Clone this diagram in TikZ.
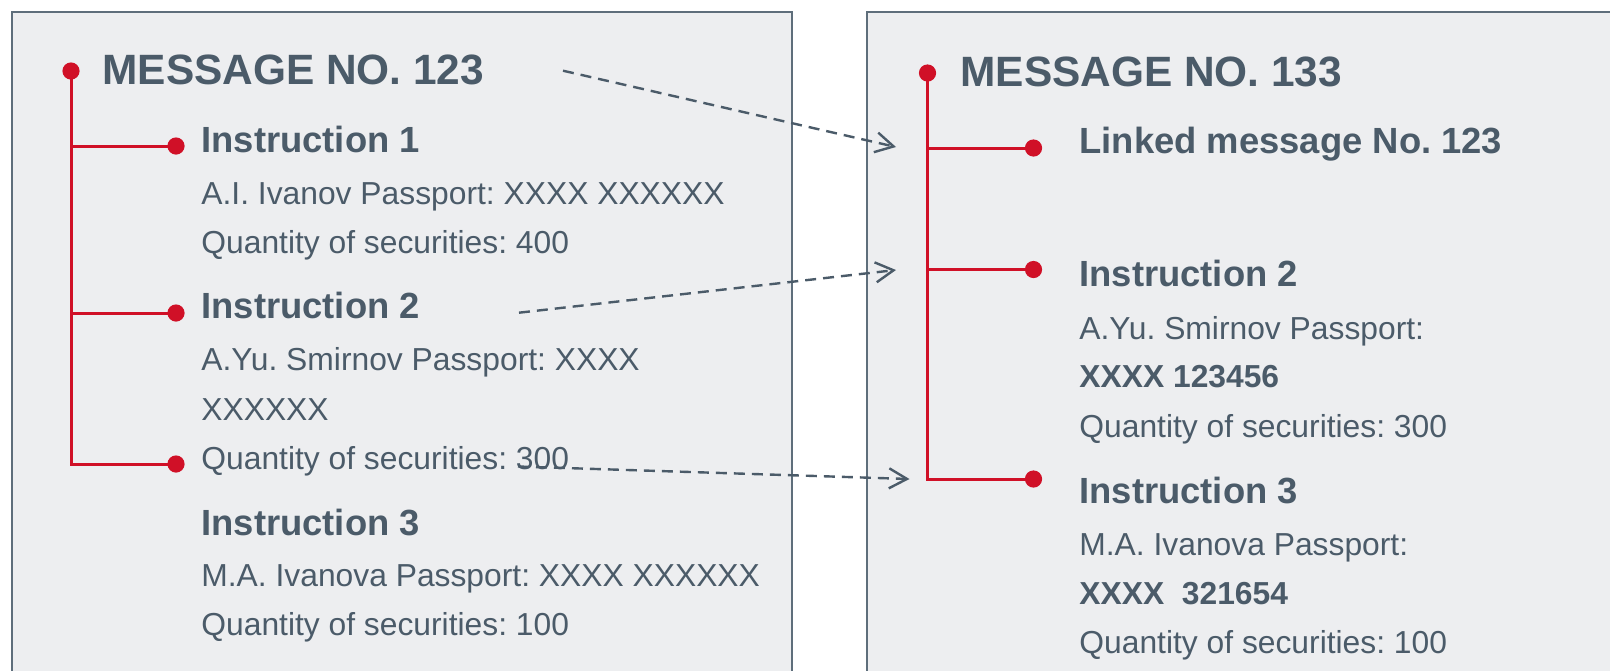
\documentclass[tikz,border=0pt]{standalone}
\usepackage{fontspec}
\setmainfont{Liberation Sans}
\usetikzlibrary{arrows.meta}
\definecolor{slate}{HTML}{4B5B69}
\definecolor{frame}{HTML}{5E6E7B}
\definecolor{panel}{HTML}{EDEEF0}
\definecolor{mark}{HTML}{D01027}
\frenchspacing
\begin{document}
\begin{tikzpicture}[x=0.5pt, y=-0.5pt,
        every node/.style={inner sep=0pt, anchor=base west, text=slate},
        title/.style={font=\fontsize{21.2pt}{24pt}\bfseries\selectfont},
        head/.style={font=\fontsize{18.2pt}{22pt}\bfseries\selectfont},
        line/.style={font=\fontsize{15.9pt}{19pt}\selectfont},
        bline/.style={font=\fontsize{15.9pt}{19pt}\bfseries\selectfont},
        dot/.style={circle, fill=mark, minimum size=8.6pt, anchor=center},
        tree/.style={draw=mark, line width=1.5pt},
        link/.style={draw=slate, line width=1.2pt, dash pattern=on 5.5pt off 3.5pt,
            -{Straight Barb[length=9pt, width=10pt, line width=1.2pt]}}]
        \useasboundingbox (0, 0) rectangle (1610, 670);
        \clip (0, 0) rectangle (1610, 670);
        % the two messages
        \draw[frame, fill=panel, line width=0.8pt] (12, 12) rectangle (792, 700);
        \draw[frame, fill=panel, line width=0.8pt] (867, 12) rectangle (1700, 700);
        % message 123
        \node[title] (m123) at (102, 84) {MESSAGE NO. 123};
        \node[head] (i1) at (201, 152.7) {Instruction 1};
        \node[line] (i1p) at (201, 204) {A.I. Ivanov Passport: XXXX XXXXXX};
        \node[line] (i1q) at (201, 253.3) {Quantity of securities: 400};
        \node[head] (i2) at (201, 318.3) {Instruction 2};
        \node[line] (i2p) at (201, 370) {A.Yu. Smirnov Passport: XXXX};
        \node[line] (i2n) at (201, 420) {XXXXXX};
        \node[line] (i2q) at (201, 469) {Quantity of securities: 300};
        \node[head] (i3) at (201, 535) {Instruction 3};
        \node[line] (i3p) at (201, 586.7) {M.A. Ivanova Passport: XXXX XXXXXX};
        \node[line] (i3q) at (201, 635) {Quantity of securities: 100};
        \node[dot] (l0) at (71, 71) {};
        \node[dot] (l1) at (176, 146) {};
        \node[dot] (l2) at (176, 313) {};
        \node[dot] (l3) at (176, 464) {};
        \draw[tree] (l0.center) |- (l3.center);
        \draw[tree] (l0.center |- l1.center) -- (l1.center);
        \draw[tree] (l0.center |- l2.center) -- (l2.center);
        % message 133
        \node[title] (m133) at (960, 86) {MESSAGE NO. 133};
        \node[head] (k0) at (1079, 153.3) {Linked message No. 123};
        \node[head] (k2) at (1079, 286.7) {Instruction 2};
        \node[line] (k2p) at (1079, 339) {A.Yu. Smirnov Passport:};
        \node[bline] (k2n) at (1079, 387.7) {XXXX 123456};
        \node[line] (k2q) at (1079, 437.7) {Quantity of securities: 300};
        \node[head] (k3) at (1079, 503.3) {Instruction 3};
        \node[line] (k3p) at (1079, 555) {M.A. Ivanova Passport:};
        \node[bline] (k3n) at (1079, 604.3) {XXXX\ \ 321654};
        \node[line] (k3q) at (1079, 653.3) {Quantity of securities: 100};
        \node[dot] (r0) at (927.5, 73) {};
        \node[dot] (r1) at (1033.5, 148) {};
        \node[dot] (r2) at (1033.5, 269.5) {};
        \node[dot] (r3) at (1033.5, 479) {};
        \draw[tree] (r0.center) |- (r3.center);
        \draw[tree] (r0.center |- r1.center) -- (r1.center);
        \draw[tree] (r0.center |- r2.center) -- (r2.center);
        % links between the messages
        \coordinate (s1) at (563, 70.7);
        \coordinate (e1) at (896, 147);
        \coordinate (s2) at (519, 312.7);
        \coordinate (e2) at (896, 270);
        \coordinate (s3) at (518, 466.5);
        \coordinate (e3) at (909.5, 479);
        \draw[link] (s1) -- (e1);
        \draw[link] (s2) -- (e2);
        \draw[link] (s3) -- (e3);
    \end{tikzpicture}
\end{document}
